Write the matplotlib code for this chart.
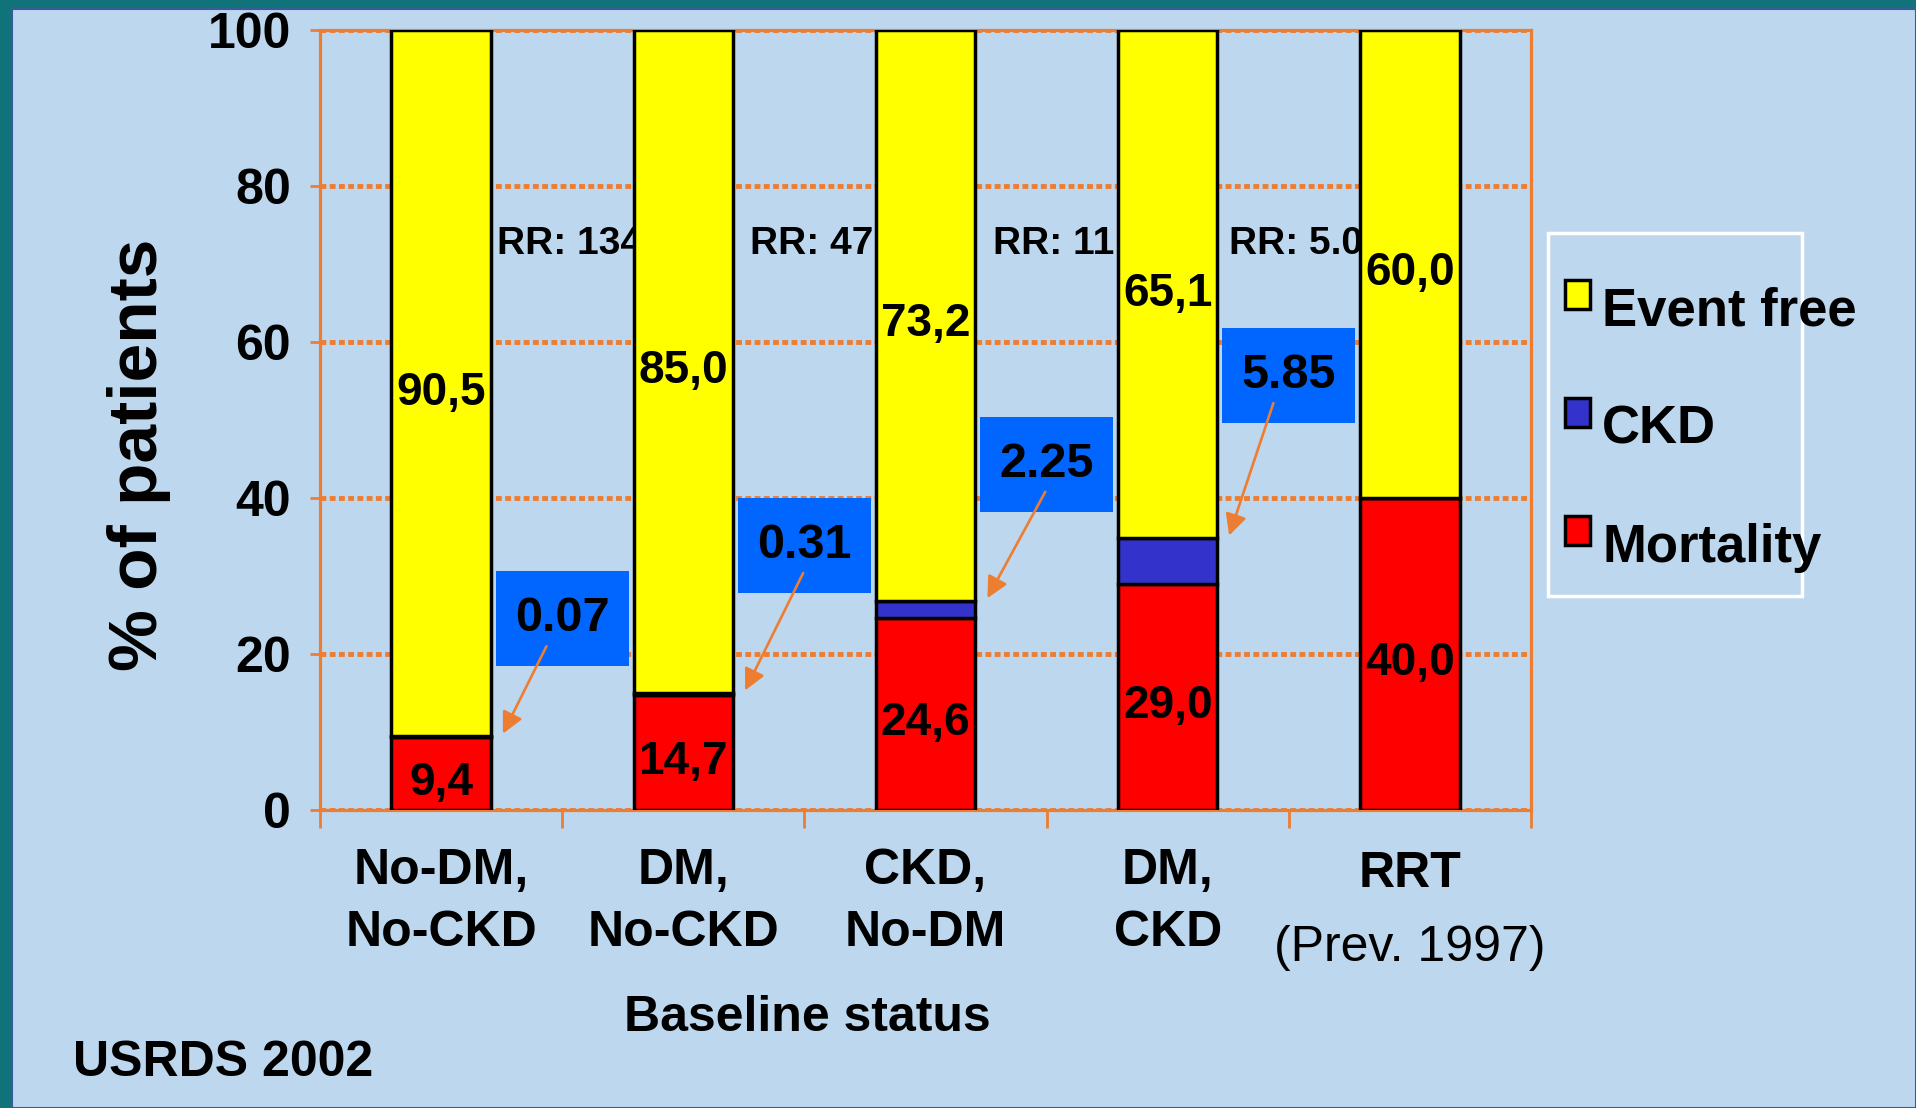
import matplotlib
matplotlib.use("Agg")
import matplotlib.pyplot as plt
from matplotlib.patches import Rectangle

plt.rcParams['font.family'] = ['Liberation Sans', 'DejaVu Sans']
plt.rcParams['font.weight'] = 'bold'

# stacked percentages per baseline group
categories = ["No-DM,\nNo-CKD", "DM,\nNo-CKD", "CKD,\nNo-DM", "DM,\nCKD", "RRT"]
mortality = [9.4, 14.7, 24.6, 29.0, 40.0]
ckd = [0.07, 0.31, 2.25, 5.85, 0.0]
event_free = [90.5, 85.0, 73.2, 65.1, 60.0]
rr_labels = ["RR: 134", "RR: 47", "RR: 11", "RR: 5.0"]

ORANGE = "#ED7D31"
PANEL = "#BDD7EE"
YELLOW = "#FFFF00"
BLUE = "#3333CC"
RED = "#FF0000"
BOX_BLUE = "#0066FF"

# where the CKD callout boxes sit (y centre, data units) and arrow start nudges
box_y = [24.5, 33.9, 44.3, 55.7]
arrow_dx = [-0.06, 0.0, 0.0, -0.06]

fig = plt.figure(figsize=(19.16, 11.08), dpi=100)
fig.patch.set_facecolor("#11737A")
fig.add_artist(Rectangle((12 / 1916, 0), 1 - 12 / 1916, 1 - 9 / 1108,
                         transform=fig.transFigure, facecolor=PANEL,
                         edgecolor="#3A5A9A", linewidth=1.5, zorder=0))

ax = fig.add_axes([320 / 1916, 1 - 810 / 1108, 1211 / 1916, 780 / 1108])
ax.set_facecolor("none")

x = list(range(len(categories)))
w = 0.41
bottom_ckd = mortality
bottom_ev = [m + c for m, c in zip(mortality, ckd)]
ax.bar(x, mortality, w, color=RED, edgecolor="black", linewidth=2.5, zorder=3)
ax.bar(x, ckd, w, bottom=bottom_ckd, color=BLUE, edgecolor="black", linewidth=2.5, zorder=3)
ax.bar(x, event_free, w, bottom=bottom_ev, color=YELLOW, edgecolor="black", linewidth=2.5, zorder=3)

ax.set_xlim(-0.5, 4.5)
ax.set_ylim(0, 100)

# dotted gridlines behind everything
ax.set_yticks([0, 20, 40, 60, 80, 100])
ax.yaxis.grid(True, color=ORANGE, linewidth=3.5, linestyle=(0, (1.2, 0.7)), zorder=0)
ax.set_axisbelow(True)

for side in ["left", "bottom", "top", "right"]:
    ax.spines[side].set_color(ORANGE)
    ax.spines[side].set_linewidth(2.3)

ax.tick_params(axis="y", colors=ORANGE, length=7, width=2, pad=14, labelsize=36,
               labelcolor="black")
ax.set_xticks(x, categories[:4] + [""])
ax.set_xticks([i - 0.5 for i in range(6)], minor=True)
ax.tick_params(axis="x", which="major", length=0, pad=27, labelsize=36, labelcolor="black")
ax.tick_params(axis="x", which="minor", colors=ORANGE, length=13, width=2)
for lbl in ax.get_xticklabels():
    lbl.set_linespacing(1.45)
    lbl.set_va("top")

# RRT label: bold name, regular note underneath
ax.text(4, -5.3, "RRT", ha="center", va="top", fontsize=36, fontweight="bold")
ax.text(4, -14.8, "(Prev. 1997)", ha="center", va="top", fontsize=36, fontweight="normal")

ax.set_ylabel("% of patients", fontsize=50, fontweight="bold")
ax.yaxis.set_label_coords(-0.123, 0.455)

# value labels inside the bars
for i in x:
    ax.text(i, mortality[i] / 2 - 1.2, f"{mortality[i]:.1f}".replace(".", ","),
            ha="center", va="center", fontsize=33, zorder=5)
    ax.text(i, bottom_ev[i] + event_free[i] / 2 - 1.2, f"{event_free[i]:.1f}".replace(".", ","),
            ha="center", va="center", fontsize=33, zorder=5)

# relative risks between bars
for i, rr in enumerate(rr_labels):
    ax.text(i + 0.53, 72.5, rr, ha="center", va="center", fontsize=28, zorder=2)

# CKD callouts with arrows to the CKD segment
bw, bh = 0.55, 12.2
for i in range(4):
    cx = i + 0.5
    ax.add_patch(Rectangle((cx - bw / 2, box_y[i] - bh / 2), bw, bh,
                           facecolor=BOX_BLUE, edgecolor="none", zorder=4))
    ax.text(cx, box_y[i], f"{ckd[i]:.2f}", ha="center", va="center", fontsize=35, zorder=5)
    ax.annotate("", xy=(i + 0.25, bottom_ev[i]), xytext=(cx + arrow_dx[i], box_y[i] - 3.2),
                arrowprops=dict(arrowstyle="-|>", color=ORANGE, lw=1.9, mutation_scale=32),
                zorder=6)

fig.text(807 / 1916, 1 - 1018 / 1108, "Baseline status", ha="center", va="center", fontsize=36)
fig.text(73 / 1916, 1 - 1063 / 1108, "USRDS 2002", ha="left", va="center", fontsize=36)

# legend
fig.add_artist(Rectangle((1548 / 1916, 1 - 596 / 1108), 254 / 1916, 363 / 1108,
                         transform=fig.transFigure, facecolor="none",
                         edgecolor="white", linewidth=2.5, zorder=1))
legend_items = [("Event free", YELLOW), ("CKD", BLUE), ("Mortality", RED)]
for k, (name, col) in enumerate(legend_items):
    top = 280 + 118 * k
    fig.add_artist(Rectangle((1565 / 1916, 1 - (top + 29) / 1108), 25 / 1916, 29 / 1108,
                             transform=fig.transFigure, facecolor=col,
                             edgecolor="black", linewidth=2.5, zorder=2))
    fig.text(1602 / 1916, 1 - (top + 46) / 1108, name, ha="left", va="baseline", fontsize=38)

fig.savefig("out.png", dpi=100, facecolor=fig.get_facecolor())
